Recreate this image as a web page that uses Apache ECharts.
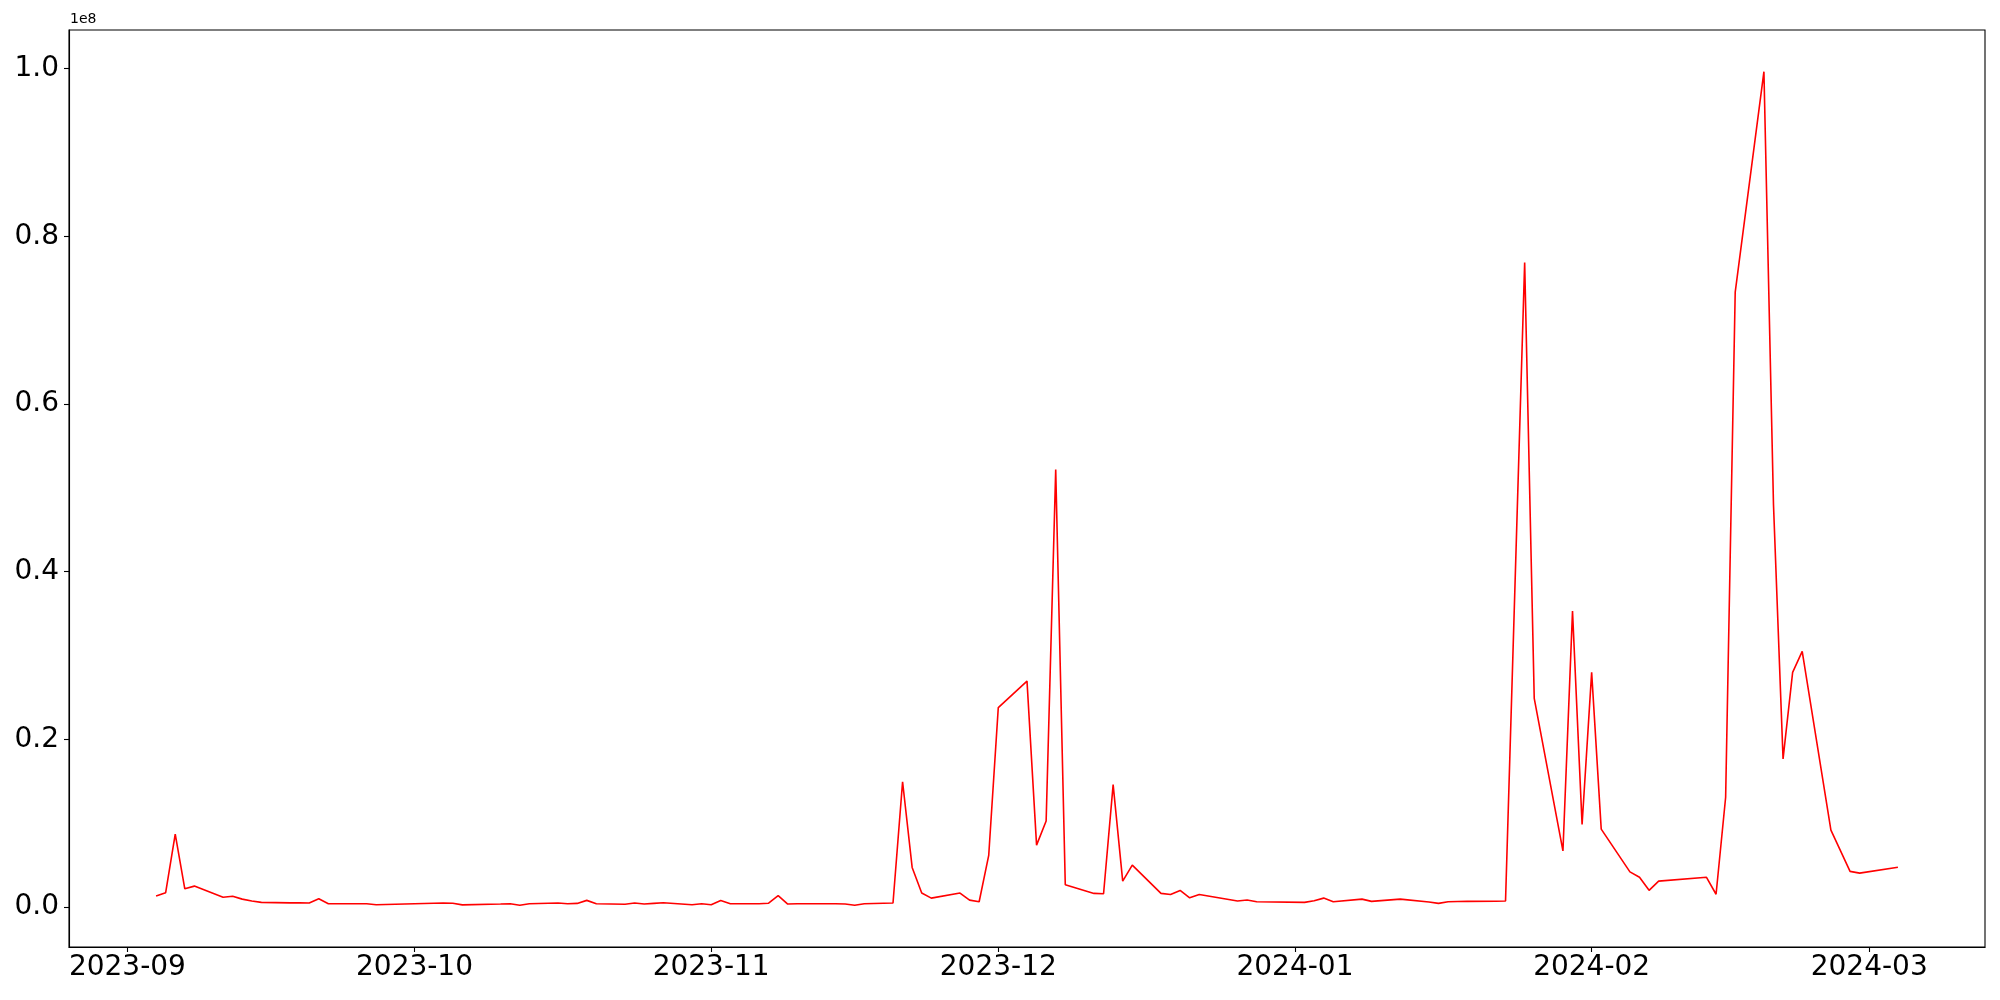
<!DOCTYPE html>
<html>
<head>
<meta charset="utf-8">
<script src="https://cdn.jsdelivr.net/npm/echarts@6/dist/echarts.min.js"></script>
<style>
  html, body { margin: 0; padding: 0; background: #fff; }
  #chart { width: 2000px; height: 1000px; }
</style>
</head>
<body>
<div id="chart"></div>
<script>
// Trading dates (Korean market days) and values
const dates = [
  '2023-09-04','2023-09-05','2023-09-06','2023-09-07','2023-09-08',
  '2023-09-11','2023-09-12','2023-09-13','2023-09-14','2023-09-15',
  '2023-09-18','2023-09-19','2023-09-20','2023-09-21','2023-09-22',
  '2023-09-25','2023-09-26','2023-09-27',
  '2023-10-04','2023-10-05','2023-10-06',
  '2023-10-10','2023-10-11','2023-10-12','2023-10-13',
  '2023-10-16','2023-10-17','2023-10-18','2023-10-19','2023-10-20',
  '2023-10-23','2023-10-24','2023-10-25','2023-10-26','2023-10-27',
  '2023-10-30','2023-10-31','2023-11-01','2023-11-02','2023-11-03',
  '2023-11-06','2023-11-07','2023-11-08','2023-11-09','2023-11-10',
  '2023-11-13','2023-11-14','2023-11-15','2023-11-16','2023-11-17',
  '2023-11-20','2023-11-21','2023-11-22','2023-11-23','2023-11-24',
  '2023-11-27','2023-11-28','2023-11-29','2023-11-30','2023-12-01',
  '2023-12-04','2023-12-05','2023-12-06','2023-12-07','2023-12-08',
  '2023-12-11','2023-12-12','2023-12-13','2023-12-14','2023-12-15',
  '2023-12-18','2023-12-19','2023-12-20','2023-12-21','2023-12-22',
  '2023-12-26','2023-12-27','2023-12-28',
  '2024-01-02','2024-01-03','2024-01-04','2024-01-05',
  '2024-01-08','2024-01-09','2024-01-10','2024-01-11','2024-01-12',
  '2024-01-15','2024-01-16','2024-01-17','2024-01-18','2024-01-19',
  '2024-01-22','2024-01-23','2024-01-25','2024-01-26',
  '2024-01-29','2024-01-30','2024-01-31','2024-02-01','2024-02-02',
  '2024-02-05','2024-02-06','2024-02-07','2024-02-08',
  '2024-02-13','2024-02-14','2024-02-15','2024-02-16',
  '2024-02-19','2024-02-20','2024-02-21','2024-02-22','2024-02-23',
  '2024-02-26','2024-02-28','2024-02-29',
  '2024-03-04'
];
const values = [
  1310000, 1710000, 8690000, 2180000, 2500000,
  1180000, 1300000, 950000, 720000, 560000,
  500000, 500000, 480000, 990000, 400000,
  400000, 400000, 280000,
  480000, 450000, 260000,
  360000, 400000, 220000, 400000,
  480000, 400000, 440000, 800000, 400000,
  340000, 480000, 360000, 440000, 520000,
  280000, 400000, 280000, 780000, 400000,
  400000, 460000, 1370000, 360000, 400000,
  400000, 390000, 360000, 210000, 400000,
  480000, 14950000, 4730000, 1670000, 1070000,
  1670000, 830000, 640000, 6160000, 23800000,
  26950000, 7390000, 10260000, 52180000, 2660000,
  1630000, 1590000, 14600000, 3100000, 5000000,
  1630000, 1500000, 1980000, 1100000, 1500000,
  720000, 850000, 640000,
  560000, 760000, 1070000, 640000,
  950000, 680000, 770000, 860000, 950000,
  600000, 440000, 640000, 660000, 680000,
  700000, 720000, 76900000, 24900000,
  6700000, 35300000, 9850000, 28000000, 9300000,
  4200000, 3550000, 2000000, 3100000,
  3550000, 1530000, 13100000, 73360000,
  99650000, 48000000, 17670000, 28000000, 30500000,
  9180000, 4260000, 4050000,
  4760000
];
const xTickLabels = ['2023-09','2023-10','2023-11','2023-12','2024-01','2024-02','2024-03'];
const yTickValues = [0, 20000000, 40000000, 60000000, 80000000, 100000000];

function parseDay(s) {
  const p = s.split('-').map(Number);
  return Date.UTC(p[0], p[1] - 1, p[2] || 1);
}
const seriesData = dates.map((d, i) => [parseDay(d), values[i]]);
const xTicks = xTickLabels.map(parseDay);

const tFirst = seriesData[0][0], tLast = seriesData[seriesData.length - 1][0];
const tSpan = tLast - tFirst;
const vMin = Math.min(...values), vMax = Math.max(...values);
const vSpan = vMax - vMin;

const FONT = 'DejaVu Sans';
const chart = echarts.init(document.getElementById('chart'), null, { renderer: 'canvas' });
chart.setOption({
  animation: false,
  backgroundColor: '#ffffff',
  grid: {
    left: 69, top: 30, right: 15, bottom: 53,
    show: true, borderColor: '#000', borderWidth: 1.1,
    containLabel: false, outerBoundsMode: 'none'
  },
  xAxis: {
    type: 'value',
    min: tFirst - 0.05 * tSpan,
    max: tLast + 0.05 * tSpan,
    splitLine: { show: false },
    axisLine: { show: true, onZero: false, lineStyle: { color: '#000', width: 1.1 } },
    axisTick: { show: true, length: 5, lineStyle: { color: '#000', width: 1.1 }, customValues: xTicks },
    axisLabel: {
      customValues: xTicks,
      showMinLabel: true, showMaxLabel: true,
      color: '#000', fontFamily: FONT, fontSize: 28, margin: 7,
      formatter: function (val) {
        const d = new Date(val);
        const m = d.getUTCMonth() + 1;
        return d.getUTCFullYear() + '-' + (m < 10 ? '0' + m : m);
      }
    }
  },
  yAxis: {
    type: 'value',
    min: vMin - 0.05 * vSpan,
    max: vMax + 0.05 * vSpan,
    splitLine: { show: false },
    axisLine: { show: true, onZero: false, lineStyle: { color: '#000', width: 1.1 } },
    axisTick: { show: true, length: 5, lineStyle: { color: '#000', width: 1.1 }, customValues: yTickValues },
    axisLabel: {
      customValues: yTickValues,
      color: '#000', fontFamily: FONT, fontSize: 28, margin: 10,
      formatter: function (v) { return (v / 1e8).toFixed(1); }
    }
  },
  graphic: [{
    type: 'text', left: 70, top: 12,
    style: { text: '1e8', fill: '#000', font: '14px "DejaVu Sans"' }
  }],
  series: [{
    type: 'line',
    data: seriesData,
    showSymbol: false,
    symbol: 'none',
    lineStyle: { color: '#ff0000', width: 1.6 },
    itemStyle: { color: '#ff0000' }
  }]
});
</script>
</body>
</html>
